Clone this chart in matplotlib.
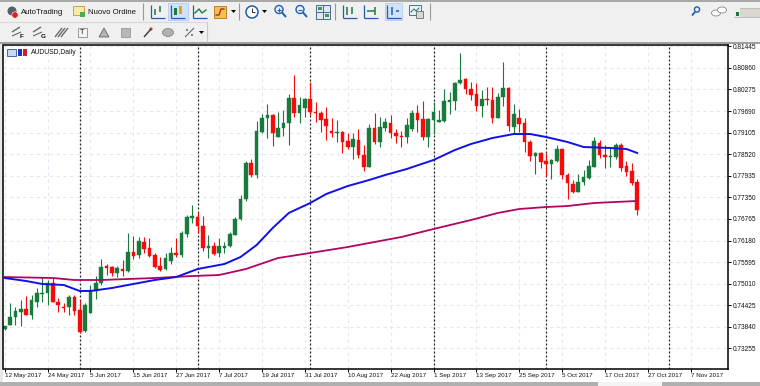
import numpy as np
import matplotlib
matplotlib.use("Agg")
import matplotlib.pyplot as plt
from matplotlib.patches import Rectangle, Circle, Polygon, Ellipse

plt.rcParams['font.family'] = ['Liberation Sans', 'DejaVu Sans']

high = [
 .73864,.74488,.74379,.74569,.74677,.74705,.74894,.75192,.75111,.75165,
 .74623,.74488,.74705,.74705,.74569,.74488,.74976,.75219,.75680,.75545,
 .75490,.75490,.75653,.76385,.76303,.76276,.76276,.76249,.75843,.75734,
 .75843,.76005,.76249,.76439,.76873,.77144,.76954,.76846,.76331,.76141,
 .76249,.76141,.76412,.76818,.77415,.78336,.78390,.79420,.79610,.79881,
 .79610,.79664,.79718,.80152,.80666,.80070,.80043,.80477,.79935,.79691,
 .79799,.79501,.79447,.79149,.79095,.79095,.79203,.78769,.79339,.79637,
 .79528,.79501,.79582,.79203,.79149,.79501,.79718,.79854,.79962,.79501,
 .79935,.79718,.80287,.80206,.80477,.81263,.80585,.80477,.80450,.80260,
 .80341,.80341,.80179,.81019,.80341,.79881,.79745,.79501,.78905,.78580,
 .78580,.78553,.78390,.78769,.78661,.78011,.77821,.77984,.78092,.78363,
 .78986,.78905,.78769,.78715,.78824,.78824,.78336,.78282,.77848]
low = [
 .73756,.73892,.73892,.73864,.74163,.74054,.74379,.74515,.74434,.74515,
 .74244,.74244,.74163,.74163,.73675,.73702,.74217,.74596,.74976,.75246,
 .75219,.75192,.75219,.75328,.75680,.75707,.75843,.75734,.75436,.75355,
 .75382,.75545,.75734,.75734,.76276,.76656,.76385,.75897,.75707,.75788,
 .75734,.75843,.76005,.76331,.76737,.77252,.77902,.77875,.79095,.78959,
 .78742,.78986,.79013,.78769,.79528,.79366,.79528,.79582,.79393,.79122,
 .78905,.78986,.78851,.78553,.78661,.78390,.78417,.78065,.78173,.78797,
 .78715,.79149,.78959,.78824,.78715,.78824,.79149,.79122,.78905,.78715,
 .79068,.79393,.79393,.79610,.79718,.80423,.80152,.79989,.79691,.79528,
 .79854,.79366,.79501,.79826,.79149,.79095,.79122,.78580,.78336,.77984,
 .78146,.77929,.77848,.78309,.77848,.77307,.77469,.77497,.77686,.77848,
 .78173,.78417,.78146,.78173,.78390,.78065,.77929,.77686,.76873]
open_ = [
 .73783,.73892,.74108,.74244,.74325,.74163,.74515,.74732,.74759,.75030,
 .74515,.74379,.74379,.74650,.74298,.73729,.74217,.74813,.75030,.75490,
 .75463,.75301,.75409,.75355,.75870,.75788,.76141,.75978,.75788,.75490,
 .75409,.75626,.75843,.75788,.76358,.76791,.76818,.76574,.75978,.76032,
 .75843,.75978,.76032,.76331,.76764,.77307,.78282,.77957,.79122,.79501,
 .79582,.78986,.79231,.79366,.80043,.79637,.79772,.80016,.79664,.79637,
 .79474,.79149,.79095,.79122,.78878,.78715,.78905,.78499,.78173,.79231,
 .78851,.79231,.79366,.79095,.79013,.78986,.79203,.79637,.79474,.78986,
 .79447,.79393,.79420,.79935,.79962,.80450,.80558,.80287,.80152,.79826,
 .80016,.79989,.79501,.80070,.80314,.79258,.79501,.79366,.78851,.78471,
 .78553,.78336,.78255,.78336,.78661,.77957,.77713,.77497,.77767,.77875,
 .78173,.78824,.78499,.78444,.78444,.78769,.78201,.78065,.77767]
close = [
 .73864,.74108,.74271,.74325,.74163,.74569,.74759,.74759,.75030,.74515,
 .74434,.74352,.74650,.74271,.73702,.74434,.74840,.75030,.75463,.75436,
 .75301,.75436,.75355,.75870,.75761,.76168,.75951,.75761,.75463,.75382,
 .75707,.75843,.75788,.76385,.76818,.76846,.76574,.75978,.76032,.75816,
 .76032,.76032,.76358,.76764,.77307,.78282,.77957,.79149,.79501,.79582,
 .79095,.79231,.79366,.80043,.79637,.79854,.80016,.79664,.79637,.79447,
 .79285,.79095,.79122,.78851,.78715,.78932,.78499,.78173,.79231,.78851,
 .79258,.79393,.79095,.79013,.78986,.79312,.79637,.79447,.78986,.79474,
 .79664,.79447,.79962,.79989,.80450,.80531,.80287,.80125,.79826,.80016,
 .79989,.79501,.80070,.80314,.79285,.79610,.79339,.78851,.78471,.78553,
 .78309,.78255,.78363,.78661,.77957,.77740,.77497,.77767,.77902,.78201,
 .78878,.78499,.78444,.78471,.78769,.78146,.78038,.77740,.77008]

fast_bars = [0,4,7,11,14,16,20,24,28,32,34,36,41,44,47,50,53,57,60,64,68,71,75,
             80,84,87,91,95,98,101,105,108,113,116,118]
fast_ma = [.75165,.75084,.75003,.74976,.74813,.74813,.74894,.75003,.75111,.75192,
           .75301,.75409,.75545,.75734,.76059,.76520,.76927,.77198,.77442,.77658,
           .77821,.77957,.78119,.78363,.78634,.78797,.78959,.79068,.79068,.78986,
           .78851,.78715,.78688,.78661,.78553]
slow_bars = [0,9,13,18,23,28,35,40,45,51,57,64,74,80,87,92,96,101,105,110,114,118]
slow_ma = [.75192,.75165,.75111,.75111,.75138,.75165,.75219,.75246,.75409,.75707,
           .75843,.76005,.76276,.76493,.76737,.76927,.77035,.77089,.77116,.77198,
           .77225,.77252]

date_labels = ['12 May 2017','24 May 2017','5 Jun 2017','15 Jun 2017','27 Jun 2017',
               '7 Jul 2017','19 Jul 2017','31 Jul 2017','10 Aug 2017','22 Aug 2017',
               '1 Sep 2017','13 Sep 2017','25 Sep 2017','5 Oct 2017','17 Oct 2017',
               '27 Oct 2017','7 Nov 2017']
date_bars = list(range(0, 129, 8))
month_bars = [14, 36, 57, 80, 101, 124]
price_ticks = [.81445,.80860,.80275,.79690,.79105,.78520,.77935,.77350,.76765,
               .76180,.75595,.75010,.74425,.73840,.73255]

W, H = 760, 386
fig = plt.figure(figsize=(W/100, H/100), dpi=100, facecolor='#f0f0f0')

# ---- window chrome, in screen pixels ----
ui = fig.add_axes([0, 0, 1, 1], zorder=0)
ui.set_xlim(0, W); ui.set_ylim(H, 0); ui.axis('off')

def rect(x, y, w, h, fc, ec='none', lw=0.8):
    ui.add_patch(Rectangle((x, y), w, h, fc=fc, ec=ec, lw=lw))

def seg(xs, ys, c, lw=1.0):
    ui.plot(xs, ys, color=c, lw=lw, solid_capstyle='butt')

rect(0, 0, W, 1.5, '#a8a8a8')
rect(0, 42, W, 2, '#a0a0a0')
rect(0, 44, W, 338, 'white')
rect(0, 44, 3, 338, '#e8e8e8')
rect(0, 382, W, 4, '#b0b0b0')
rect(598, 382, 64, 4, '#f4f4f4')
seg([0, 207], [22, 22], '#d8d8d8', 0.8)
seg([207, 207], [22, 42], '#c8c8c8', 0.8)
for sx in (143, 239, 335, 430):
    seg([sx, sx], [3, 20], '#9a9a9a', 0.8)
rect(168, 3, 20, 17, '#cfe2f7', '#a8c8ea', 0.5)
rect(385, 3, 17, 17, '#cfe2f7', '#a8c8ea', 0.5)

# toolbar: AutoTrading, Nuovo Ordine
ui.add_patch(Circle((12, 11), 4.5, fc='#5c5c70', ec='none'))
ui.add_patch(Circle((15, 15), 3.2, fc='#e02020', ec='white', lw=0.4))
ui.text(21, 12.5, 'AutoTrading', fontsize=5.6, va='center', color='#111111')
rect(73, 6, 11, 9, '#f7e9a8', '#c89628', 0.6)
rect(80, 12, 5, 5, '#4cae4c')
ui.text(87.5, 12.5, 'Nuovo Ordine', fontsize=5.6, va='center', color='#111111')

BL = '#1f5fb0'
def chart_axes(x):
    seg([x, x], [5, 18], BL, 0.9); seg([x, x+14], [18, 18], BL, 0.9)

# bar / candle / line chart buttons
chart_axes(151)
for dx, a, b in ((4, 9, 15), (9, 6, 12)):
    seg([151+dx, 151+dx], [a, b], '#1a7a3e', 1.1)
chart_axes(171)
rect(174, 8, 3, 7, '#1a7a3e'); rect(179, 6, 3, 8, '#e0a020')
chart_axes(193)
ui.plot([195, 199, 202, 206], [13, 9, 13, 10], color='#1a7a3e', lw=1)
rect(214, 6, 12, 12, '#f2c14e', '#b07818', 0.6)
ui.plot([216, 219, 221, 224], [15, 15, 9, 9], color='#b02020', lw=0.9)
ui.add_patch(Polygon([[231, 10], [236, 10], [233.5, 13]], fc='black'))
# clock + arrow
ui.add_patch(Circle((252, 12), 6, fc='white', ec=BL, lw=1.1))
seg([252, 252, 255], [8, 12, 12], '#333333', 0.7)
ui.add_patch(Polygon([[262, 10], [267, 10], [264.5, 13]], fc='black'))
# zoom buttons
for zx, plus in ((279, True), (300, False)):
    ui.add_patch(Circle((zx, 9.5), 4, fc='#e8f2fc', ec=BL, lw=1))
    seg([zx+3, zx+7], [12.5, 17], BL, 1.4)
    seg([zx-2, zx+2], [9.5, 9.5], BL, 0.8)
    if plus:
        seg([zx, zx], [7.5, 11.5], BL, 0.8)
# grid button
rect(316, 5, 14, 14, '#dfe8f4', '#4a6a94', 0.7)
seg([323, 323], [5, 19], '#4a6a94', 0.7); seg([316, 330], [12, 12], '#4a6a94', 0.7)
rect(318, 7, 4, 3, '#3a9a50'); rect(325, 14, 4, 3, '#3a9a50')
# auto-scroll, shift, scale buttons
chart_axes(343)
seg([347, 347], [7, 15], '#1a7a3e', 1.1); seg([352, 352], [7, 14], '#1a7a3e', 1.1)
chart_axes(364)
seg([367, 375], [11, 11], '#1a7a3e', 1.1); seg([375, 375], [7, 15], '#1a7a3e', 1.1)
chart_axes(387)
seg([392, 392], [7, 15], BL, 1.1); seg([396, 399], [11, 11], BL, 1.1)
# template button
rect(409, 5, 12, 10, '#e8f0fa', BL, 0.6)
ui.plot([411, 414, 416, 419], [12, 9, 11, 8], color='#1a7a3e', lw=0.7)
rect(416, 11, 7, 7, '#d8d8d8', '#555555', 0.5)
# right side
ui.add_patch(Circle((697, 9.5), 2.6, fc='none', ec=BL, lw=1))
seg([695, 692], [12, 15.5], BL, 1.3)
ui.add_patch(Ellipse((716, 13), 9, 6, fc='white', ec='#888888', lw=0.6))
ui.add_patch(Ellipse((722, 10), 9, 6, fc='white', ec='#888888', lw=0.6))
rect(734, 8, 26, 9, '#dcd6d0', '#a0a0a0', 0.4)
rect(734, 8, 6, 9, '#e8f0e8'); rect(736, 12, 3, 4, '#1a7a3e')

# drawing toolbar
def draw_tool(x, kind):
    c = '#6a6a6a'
    if kind == 'F' or kind == 'G':
        seg([x, x+8], [32, 27], c, 1); seg([x, x+9], [36, 32], c, 0.8)
        ui.text(x+8, 36, kind, fontsize=4.6, fontweight='bold', va='center', color='#111111')
    elif kind == 'lines':
        for d in (0, 3, 6):
            seg([x+d, x+d+7], [37, 28], c, 1)
    elif kind == 'T':
        rect(x, 28, 9, 9, '#f4f4f4', '#777777', 0.5)
        ui.text(x+4.5, 32.7, 'T', fontsize=5.2, ha='center', va='center', color='#222222')
    elif kind == 'tri':
        ui.add_patch(Polygon([[x, 37], [x+10, 37], [x+5, 28]], fc='#b4b4b4', ec='#666666', lw=0.6))
    elif kind == 'sq':
        rect(x, 28, 9, 9, '#b8b8b8', '#8a8a8a', 0.5)
    elif kind == 'pin':
        seg([x+1, x+8], [37, 29], '#444444', 1.1)
        ui.add_patch(Circle((x+8, 29), 1.6, fc='#b44', ec='none'))
    elif kind == 'ell':
        ui.add_patch(Ellipse((x+5, 32.5), 11, 8, fc='#b0b0b0', ec='#777777', lw=0.5))
    elif kind == 'more':
        seg([x, x+9], [37, 28], c, 0.8)
        ui.add_patch(Circle((x+2, 30), 1, fc=c)); ui.add_patch(Circle((x+7, 35), 1, fc=c))

for tx, tk in ((12, 'F'), (33, 'G'), (55, 'lines'), (78, 'T'), (99, 'tri'),
               (121, 'sq'), (143, 'pin'), (163, 'ell'), (185, 'more')):
    draw_tool(tx, tk)
ui.add_patch(Polygon([[199, 31], [204, 31], [201.5, 34]], fc='black'))

# ---- price chart ----
x0_px, step_px = 4.7, 5.36
top_px, bot_px, left_px, right_px = 45.0, 369.0, 3.5, 728.0
ax = fig.add_axes([left_px/W, 1-bot_px/H, (right_px-left_px)/W, (bot_px-top_px)/H],
                  zorder=1, facecolor='white')
ax.set_xlim((left_px-x0_px)/step_px, (right_px-x0_px)/step_px)
ax.set_ylim(0.82699-0.000271*bot_px, 0.82699-0.000271*top_px)

ax.set_xticks(date_bars)
ax.set_xticklabels(date_labels, ha='left', fontsize=4.5, color='#111111')
ax.yaxis.tick_right()
ax.set_yticks(price_ticks)
ax.set_yticklabels([f'{t:.5f}' for t in price_ticks], fontsize=4.7, color='#111111')
ax.tick_params(axis='x', length=2.2, width=0.7, pad=1.0, color='black')
ax.tick_params(axis='y', length=2.5, width=0.7, pad=0.8, color='black')
ax.grid(True, color='#e6e6f4', lw=0.8, linestyle=(0, (3, 3)))
ax.set_axisbelow(True)
for s in ax.spines.values():
    s.set_linewidth(1.1); s.set_color('black')

for m in month_bars:
    ax.axvline(m, color='#222222', lw=0.9, linestyle=(0, (1.6, 1.6)), zorder=1.5)

bars = np.arange(len(close))
o, c, h, l = map(np.array, (open_, close, high, low))
GREEN, RED = '#187a3c', '#f60a0a'
cols = [GREEN if cc >= oo else RED for oo, cc in zip(o, c)]
ax.vlines(bars, l, h, colors=cols, lw=0.8, zorder=2)
ax.bar(bars, np.abs(c-o), bottom=np.minimum(o, c), width=0.68, color=cols,
       linewidth=0.3, edgecolor=cols, zorder=2.1)

ax.plot(slow_bars, slow_ma, color='#b3045f', lw=1.3, zorder=3)
ax.plot(fast_bars, fast_ma, color='#1010e8', lw=1.4, zorder=3.1)

# chart caption with its small icon
ui2 = fig.add_axes([0, 0, 1, 1], zorder=2)
ui2.set_xlim(0, W); ui2.set_ylim(H, 0); ui2.axis('off'); ui2.patch.set_alpha(0)
ui2.add_patch(Rectangle((7, 48.5), 9, 7, fc='#c8d8f0', ec='#3050a0', lw=0.6))
ui2.add_patch(Rectangle((18, 49), 4, 6.5, fc='#2030c0'))
ui2.add_patch(Rectangle((23, 49), 4, 6.5, fc='#d02030'))
ui2.text(31, 52.2, 'AUDUSD,Daily', fontsize=4.9, va='center', color='#111111')

fig.savefig('out.png', dpi=100, facecolor=fig.get_facecolor())
